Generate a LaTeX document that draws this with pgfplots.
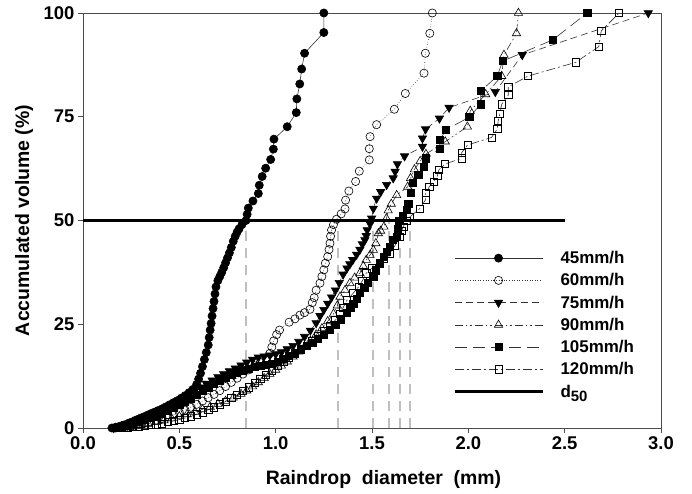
\documentclass[border=0pt]{standalone}
\usepackage{fontspec}
\setmainfont{Liberation Sans}
\usepackage{pgfplots}
\pgfplotsset{compat=1.18}
\begin{document}
\begin{tikzpicture}
\begin{axis}[name=ax, scale only axis, width=578bp, height=415bp,
  xmin=0, xmax=3, ymin=0, ymax=100,
  xtick={0,0.5,1,1.5,2,2.5,3}, ytick={0,25,50,75,100},
  xticklabel style={/pgf/number format/fixed, /pgf/number format/fixed zerofill, /pgf/number format/precision=1},
  /pgf/number format/assume math mode=true,
  tick label style={font=\fontsize{18.5}{18.5}\selectfont\bfseries},
  label style={font=\fontsize{19.5}{19.5}\selectfont\bfseries},
  xlabel={Raindrop\ \ diameter\ \ (mm)}, ylabel={Accumulated volume (\%)},
  xlabel style={at={(axis description cs:0.52,-0.123)}, anchor=center},
  ylabel style={at={(axis description cs:-0.102,0.5)}, anchor=center},
  tick align=outside, xtick pos=bottom, ytick pos=left, major tick length=5bp,
  axis line style={draw=black!70, line width=0.8bp},
  tick style={black!70, line width=0.8bp},
  legend style={draw=none, fill=none, at={(axis cs:1.905,43.6)}, anchor=north west,
    font=\fontsize{17}{17}\selectfont\bfseries, row sep=4.5bp, legend cell align=left},
  legend image code/.code={\path[draw=none, fill=none] (0bp,0bp) -- (104bp,0bp);\draw[mark repeat=2,mark phase=2] plot coordinates {(0bp,0bp) (44bp,0bp) (88bp,0bp)};},
]
% d50 verticals
\addplot[forget plot, draw=black!25, line width=2bp, dash pattern=on 10bp off 7bp] coordinates {(0.844,0) (0.844,50)};
\addplot[forget plot, draw=black!25, line width=2bp, dash pattern=on 10bp off 7bp] coordinates {(1.322,0) (1.322,50)};
\addplot[forget plot, draw=black!25, line width=2bp, dash pattern=on 10bp off 7bp] coordinates {(1.507,0) (1.507,50)};
\addplot[forget plot, draw=black!25, line width=2bp, dash pattern=on 10bp off 7bp] coordinates {(1.586,0) (1.586,50)};
\addplot[forget plot, draw=black!25, line width=2bp, dash pattern=on 10bp off 7bp] coordinates {(1.647,0) (1.647,50)};
\addplot[forget plot, draw=black!25, line width=2bp, dash pattern=on 10bp off 7bp] coordinates {(1.695,0) (1.695,50)};
% 45 mm/h
\addplot[draw=black!80, line width=0.6bp, mark=*, mark size=4.1bp, mark options={solid, draw=black, fill=black}] coordinates {
(0.15,0) (0.17,0.2) (0.19,0.4) (0.21,0.7) (0.23,1.0) (0.25,1.4) (0.27,1.8) (0.29,2.2) (0.31,2.6) (0.33,3.0) (0.35,3.4) (0.37,3.8) (0.39,4.2) (0.41,4.6) (0.43,5.1) (0.45,5.6) (0.47,6.1) (0.49,6.6) (0.51,7.2) (0.53,7.8) (0.55,8.5) (0.57,9.3) (0.59,10.5) (0.60,11.8) (0.61,13.2) (0.62,14.8) (0.63,16.5) (0.64,18.2) (0.65,20.0) (0.655,21.8) (0.66,23.6) (0.665,25.2) (0.67,27) (0.675,28.8) (0.68,30.5) (0.685,32.3) (0.69,34) (0.70,35.5) (0.71,36.5) (0.72,37.5) (0.73,38.6) (0.74,39.8) (0.75,41) (0.76,42.2) (0.77,43.5) (0.78,45) (0.79,46.2) (0.80,47.2) (0.81,48) (0.825,49) (0.846,50) (0.852,51.5) (0.858,53) (0.882,54.7) (0.91,56.5) (0.915,58.5) (0.93,60.6) (0.948,62.6) (0.974,64.7) (0.988,67.2) (0.991,69.6) (1.06,72.6) (1.107,76) (1.11,79.3) (1.125,82.9) (1.135,86.5) (1.15,90.3) (1.25,95.3) (1.25,100)};
\addlegendentry{45mm/h}
% 60 mm/h
\addplot[draw=black!80, line width=0.6bp, dotted, mark=o, mark size=4.1bp, mark options={solid, draw=black, fill=white}] coordinates {
(0.17,0) (0.2,0.2) (0.23,0.4) (0.26,0.6) (0.29,0.9) (0.32,1.2) (0.35,1.5) (0.38,1.9) (0.41,2.3) (0.44,2.7) (0.47,3.2) (0.50,3.7) (0.53,4.3) (0.56,5.0) (0.59,5.7) (0.62,6.5) (0.65,7.3) (0.68,8.1) (0.71,9.0) (0.74,10.0) (0.77,11.0) (0.80,12.0) (0.83,13.0) (0.86,14.0) (0.89,15.0) (0.92,15.8) (0.95,16.8) (0.97,18) (0.98,19.5) (0.99,21) (1.005,22.5) (1.02,23.6) (1.07,25.5) (1.10,26.3) (1.126,27.2) (1.15,27.8) (1.178,28.6) (1.19,30.2) (1.20,31.4) (1.21,33.2) (1.23,34.9) (1.24,36.5) (1.25,38.1) (1.258,39.7) (1.27,41.3) (1.277,43) (1.282,44.5) (1.285,46.2) (1.29,47.7) (1.30,49) (1.316,50.3) (1.34,51.6) (1.36,52.8) (1.363,54.9) (1.38,57.1) (1.415,59.4) (1.434,61.9) (1.486,64.6) (1.486,67.3) (1.49,70.2) (1.524,73.1) (1.616,76.8) (1.673,80.6) (1.77,85.5) (1.777,90.3) (1.80,95.1) (1.813,100)};
\addlegendentry{60mm/h}
% 75 mm/h
\addplot[draw=black!80, line width=0.6bp, dash pattern=on 7bp off 4bp, mark=triangle*, mark size=4.8bp, mark options={solid, rotate=180, draw=black, fill=black}] coordinates {
(0.16,0) (0.19,0.5) (0.22,1.0) (0.25,1.5) (0.28,2.0) (0.31,2.6) (0.34,3.2) (0.37,3.8) (0.40,4.4) (0.43,5.0) (0.46,5.7) (0.49,6.4) (0.52,7.2) (0.55,8.0) (0.58,8.9) (0.61,9.8) (0.64,10.7) (0.67,11.5) (0.70,12.3) (0.73,13.0) (0.76,13.7) (0.79,14.4) (0.82,15.1) (0.85,15.8) (0.88,16.5) (0.91,17.0) (0.94,17.3) (0.97,17.5) (1.00,17.8) (1.03,18.3) (1.06,19.0) (1.09,19.8) (1.12,20.8) (1.15,22.0) (1.18,23.5) (1.21,25.3) (1.23,27.0) (1.25,28.5) (1.27,30.0) (1.29,31.5) (1.31,33.2) (1.33,35.0) (1.35,37.0) (1.37,38.5) (1.385,39.5) (1.40,40.5) (1.42,41.8) (1.437,43) (1.45,44.3) (1.463,45.3) (1.47,46.3) (1.475,47.7) (1.49,49.2) (1.498,50.5) (1.507,52.9) (1.524,55.3) (1.545,56.9) (1.576,58.6) (1.61,60.2) (1.62,61.8) (1.632,63.6) (1.669,65.5) (1.762,67.8) (1.762,69.8) (1.778,72) (1.85,74.6) (1.90,77.2) (2.14,81) (2.28,89.9) (2.934,100)};
\addlegendentry{75mm/h}
% 90 mm/h
\addplot[draw=black!80, line width=0.6bp, dash pattern=on 8bp off 3bp on 1.5bp off 3bp on 1.5bp off 3bp, mark=triangle, mark size=4.8bp, mark options={solid, draw=black, fill=white}] coordinates {
(0.18,0) (0.22,0.2) (0.26,0.4) (0.30,0.7) (0.34,1.0) (0.38,1.4) (0.42,1.8) (0.46,2.3) (0.50,2.8) (0.54,3.3) (0.58,3.9) (0.62,4.5) (0.66,5.1) (0.70,5.8) (0.74,6.5) (0.78,7.3) (0.82,8.2) (0.85,9.0) (0.88,10.0) (0.91,11.0) (0.94,12.0) (0.97,13.0) (1.00,14.0) (1.03,15.0) (1.06,16.0) (1.09,17.2) (1.12,18.4) (1.15,19.6) (1.18,21.0) (1.21,22.5) (1.24,24.0) (1.27,25.7) (1.30,27.5) (1.32,29.5) (1.334,31.6) (1.36,33.2) (1.385,34.9) (1.41,36.2) (1.437,37.3) (1.455,39) (1.47,40.5) (1.49,41.7) (1.507,42.9) (1.52,44.5) (1.533,46.9) (1.545,47.5) (1.562,48.5) (1.575,50.5) (1.584,52.4) (1.60,54.0) (1.628,56.1) (1.685,58.1) (1.70,60.2) (1.72,62.3) (1.75,64.3) (1.78,66) (1.88,69) (1.995,72.6) (2.01,76.4) (2.09,80.4) (2.173,84.8) (2.185,89.9) (2.25,95.1) (2.26,100)};
\addlegendentry{90mm/h}
% 105 mm/h
\addplot[draw=black!80, line width=0.6bp, dash pattern=on 12bp off 6bp, mark=square*, mark size=3.6bp, mark options={solid, draw=black, fill=black}] coordinates {
(0.17,0) (0.20,0.3) (0.23,0.6) (0.26,1.0) (0.29,1.4) (0.32,1.9) (0.35,2.4) (0.38,2.9) (0.41,3.5) (0.44,4.1) (0.47,4.8) (0.50,5.5) (0.53,6.3) (0.56,7.1) (0.59,8.0) (0.62,8.9) (0.65,9.8) (0.68,10.7) (0.71,11.5) (0.74,12.2) (0.77,12.8) (0.80,13.4) (0.83,13.9) (0.86,14.3) (0.89,14.7) (0.92,15.0) (0.95,15.2) (0.98,15.5) (1.01,16.0) (1.04,16.7) (1.07,17.4) (1.10,18.2) (1.13,19.0) (1.16,19.8) (1.19,20.6) (1.22,21.5) (1.25,22.5) (1.28,23.6) (1.31,24.8) (1.34,26.2) (1.37,27.8) (1.39,29.0) (1.403,30) (1.42,31.2) (1.437,32.5) (1.46,33.8) (1.48,35.0) (1.507,36.5) (1.52,38.0) (1.54,39.7) (1.56,41.2) (1.575,42.5) (1.593,43.7) (1.61,45.3) (1.628,46.1) (1.635,48) (1.64,50) (1.66,51.2) (1.68,52.5) (1.688,54.1) (1.70,56.6) (1.713,59) (1.74,61) (1.77,63) (1.78,65) (1.85,67.2) (1.853,69.4) (1.882,71.8) (2.005,74.9) (2.064,78) (2.065,81.2) (2.15,84.8) (2.178,88.4) (2.437,93.5) (2.617,100)};
\addlegendentry{105mm/h}
% 120 mm/h
\addplot[draw=black!80, line width=0.6bp, dash pattern=on 9bp off 3bp on 2bp off 3bp, mark=square, mark size=3.6bp, mark options={solid, draw=black, fill=white}] coordinates {
(0.20,0) (0.23,0.1) (0.26,0.2) (0.29,0.35) (0.32,0.5) (0.35,0.7) (0.38,0.9) (0.41,1.1) (0.44,1.4) (0.47,1.7) (0.50,2.0) (0.53,2.4) (0.56,2.8) (0.59,3.3) (0.62,3.8) (0.65,4.4) (0.68,5.0) (0.71,5.7) (0.74,6.4) (0.77,7.2) (0.80,8.0) (0.83,8.9) (0.86,9.8) (0.89,10.8) (0.92,11.8) (0.95,12.9) (0.98,13.9) (1.01,14.9) (1.04,15.9) (1.07,16.9) (1.10,17.9) (1.13,18.9) (1.16,19.9) (1.19,21.0) (1.22,22.1) (1.25,23.3) (1.28,24.6) (1.31,26.0) (1.334,27.5) (1.35,29.0) (1.37,30.8) (1.403,32.5) (1.43,34) (1.45,35.5) (1.47,37.3) (1.50,38.5) (1.54,39.7) (1.56,40.8) (1.593,42.1) (1.62,44) (1.645,46.1) (1.654,47.5) (1.662,48.5) (1.68,50) (1.697,50.9) (1.749,52.9) (1.778,55) (1.778,56.6) (1.797,58.1) (1.82,59.4) (1.839,60.7) (1.847,62.2) (1.879,63.6) (1.965,65) (1.965,66.3) (1.996,68.2) (2.12,70) (2.15,72) (2.155,74) (2.164,75.8) (2.173,78) (2.207,80.2) (2.207,82.2) (2.31,84.8) (2.557,88.1) (2.677,91.9) (2.69,95.7) (2.783,100)};
\addlegendentry{120mm/h}
% d50 line
\addplot[black, line width=2.6bp] coordinates {(0,50) (2.5,50)};
\addlegendentry{d\raisebox{-0.45ex}{\fontsize{15}{15}\selectfont 50}}
\end{axis}
\pgfresetboundingbox
\path[use as bounding box] ([shift={(-83bp,-66bp)}]ax.south west) rectangle ([shift={(31bp,13bp)}]ax.north east);
\end{tikzpicture}
\end{document}
